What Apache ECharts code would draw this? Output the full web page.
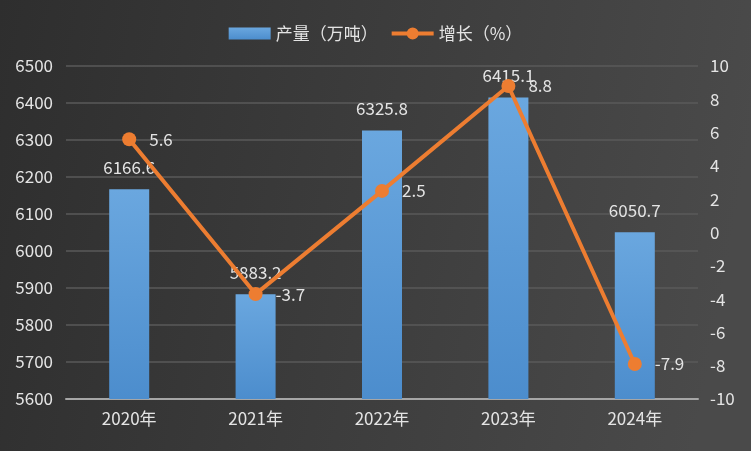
<!DOCTYPE html>
<html>
<head>
<meta charset="utf-8">
<script src="https://cdn.jsdelivr.net/npm/echarts@6/dist/echarts.min.js"></script>
<style>html,body{margin:0;padding:0;}#c{width:751px;height:451px;}</style>
</head>
<body>
<div id="c"></div>
<script>
var categories = ['2020年', '2021年', '2022年', '2023年', '2024年'];
var output = [6166.6, 5883.2, 6325.8, 6415.1, 6050.7];
var growth = [5.6, -3.7, 2.5, 8.8, -7.9];
var seriesNames = ['产量（万吨）', '增长（%）'];

var font = '"Noto Sans CJK SC", "Microsoft YaHei", sans-serif';
var txt = '#e4e4e4';
var fs = 17;
var lineIcon = 'path://M0,4 L42,4 L42,8 L0,8 Z M27,6 A6,6 0 1,1 15,6 A6,6 0 1,1 27,6 Z';
var chart = echarts.init(document.getElementById('c'));
chart.setOption({
  backgroundColor: new echarts.graphic.LinearGradient(0, 0, 1, 0.3, [
    {offset: 0, color: '#2e2e2e'}, {offset: 1, color: '#4a4a4a'}
  ]),
  textStyle: {fontFamily: font},
  legend: {
    top: 20, left: 'center', itemWidth: 42, itemHeight: 12, itemGap: 14,
    textStyle: {color: txt, fontSize: fs, fontFamily: font},
    data: [
      {name: seriesNames[0], icon: 'rect'},
      {name: seriesNames[1], icon: lineIcon, itemStyle: {color: '#ED7D31'}}
    ]
  },
  grid: {left: 66, right: 53, top: 66, bottom: 52},
  xAxis: {
    type: 'category', data: categories,
    axisLine: {onZero: false, lineStyle: {color: '#a6a6a6', width: 2}},
    axisTick: {show: false},
    axisLabel: {color: txt, fontSize: fs, margin: 11, fontFamily: font}
  },
  yAxis: [{
    type: 'value', min: 5600, max: 6500, interval: 100,
    axisLine: {show: false}, axisTick: {show: false},
    axisLabel: {color: txt, fontSize: fs, margin: 13, fontFamily: font, formatter: function (v) { return String(v); }},
    splitLine: {lineStyle: {color: '#5a5a5a', width: 1.5}}
  }, {
    type: 'value', min: -10, max: 10, interval: 2,
    axisLine: {show: false}, axisTick: {show: false},
    axisLabel: {color: txt, fontSize: fs, margin: 12, fontFamily: font},
    splitLine: {show: false}
  }],
  series: [{
    name: seriesNames[0], type: 'bar', data: output, barWidth: 40,
    itemStyle: {color: new echarts.graphic.LinearGradient(0, 0, 0, 1, [
      {offset: 0, color: '#6aa7df'}, {offset: 1, color: '#4c8dcd'}
    ])},
    label: {show: true, position: 'top', distance: 13, color: txt, fontSize: fs, fontFamily: font}
  }, {
    name: seriesNames[1], type: 'line', yAxisIndex: 1, data: growth,
    symbol: 'circle', symbolSize: 14,
    lineStyle: {color: '#ED7D31', width: 4},
    itemStyle: {color: '#ED7D31'},
    label: {show: true, position: 'right', distance: 13, color: txt, fontSize: fs, fontFamily: font}
  }]
});
</script>
</body>
</html>
